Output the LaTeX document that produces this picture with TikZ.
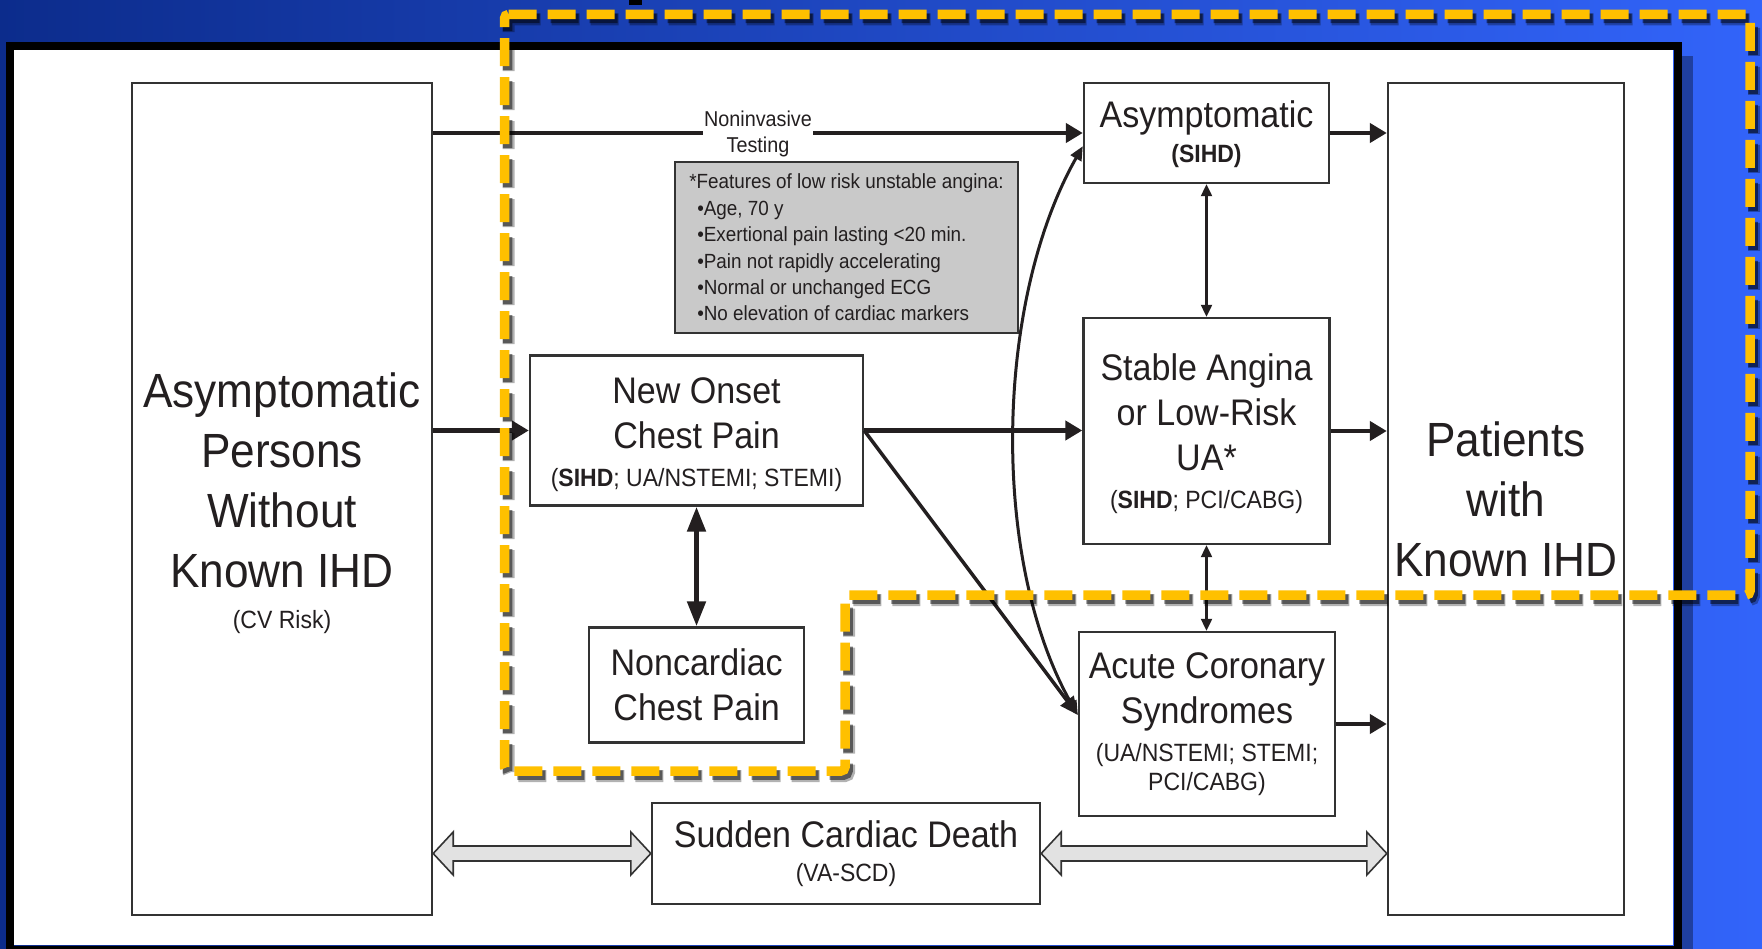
\documentclass[tikz,border=0pt]{standalone}
\usepackage{fontspec}
\setmainfont[FakeStretch=0.92]{Liberation Sans}
\usetikzlibrary{arrows.meta,calc}

\definecolor{ink}{HTML}{231F20}
\definecolor{boxline}{HTML}{333333}
\definecolor{navy}{RGB}{12,44,140}
\definecolor{royal}{RGB}{50,100,250}
\definecolor{gold}{HTML}{FFC000}
\definecolor{panelgray}{HTML}{C9C9C9}
\definecolor{hollowgray}{HTML}{E2E2E2}

\newcommand\fbig{\fontsize{48}{60}\selectfont}
\newcommand\fmid{\fontsize{37}{45}\selectfont}
\newcommand\fsml{\fontsize{25}{29}\selectfont}

\begin{document}
\begin{tikzpicture}[x=1pt,y=-1pt,
  box/.style={draw=boxline,line width=2.4pt,fill=white,inner sep=0pt,align=center,text=ink},
  arr/.style={draw=ink,line width=4.5pt,-{Triangle[length=17pt,width=19pt]}},
  thinarr/.style={draw=ink,line width=2.2pt,>={Triangle[length=12pt,width=11pt]},<->},
  boldarr/.style={draw=ink,line width=5pt,>={Triangle[length=25pt,width=18pt]},<->},
  hollow/.style={draw=boxline,line width=1.6pt,fill=hollowgray,line join=miter},
  goldline/.style={line width=9.5pt,dash pattern=on 28pt off 11pt,rounded corners=4pt}
]
\useasboundingbox (0,0) rectangle (1762,949);

% slide background and framed white panel
\shade[left color=navy,right color=royal] (0,0) rectangle (1762,949);
\fill[black] (629,0) rectangle (642,5);
\fill[black,opacity=.35] (1682,56) rectangle (1693,949);
\fill[white] (13,50) rectangle (1673,945);
\draw[black,line width=8pt] (9.5,46.5) rectangle (1677.5,950);

% boxes
\node[box,minimum width=300pt,minimum height=832pt,font=\fbig] (L) at (282,499)
  {\rule{0pt}{43pt}Asymptomatic\\Persons\\Without\\Known IHD\\[-19pt]{\fsml (CV Risk)}};
\node[box,minimum width=236pt,minimum height=832pt,font=\fbig] (Pat) at (1506,499)
  {Patients\\with\\Known IHD};
\node[box,minimum width=245pt,minimum height=100pt,font=\fmid] (Asy) at (1206.5,133)
  {\rule{0pt}{29pt}Asymptomatic\\[-10pt]{\fsml\bfseries (SIHD)}};
\node[box,minimum width=246pt,minimum height=226pt,font=\fmid] (Stab) at (1206.5,431)
  {\rule{0pt}{33pt}Stable Angina\\or Low-Risk\\UA*\\[-7pt]{\fsml (\textbf{SIHD}; PCI/CABG)}};
\node[box,minimum width=256pt,minimum height=184pt,font=\fmid] (ACS) at (1207,724)
  {Acute Coronary\\Syndromes\\[-7pt]{\fsml (UA/NSTEMI; STEMI;}\\[-16pt]{\fsml PCI/CABG)}};
\node[box,minimum width=333pt,minimum height=150pt,font=\fmid] (NO) at (696.5,430.5)
  {\rule{0pt}{34pt}New Onset\\Chest Pain\\[-7pt]{\fsml (\textbf{SIHD}; UA/NSTEMI; STEMI)}};
\node[box,minimum width=215pt,minimum height=115pt,font=\fmid] (NC) at (696.7,685)
  {Noncardiac\\Chest Pain};
\node[box,minimum width=388pt,minimum height=101pt,font=\fmid] (SCD) at (846,853.5)
  {Sudden Cardiac Death\\[-11pt]{\fsml (VA-SCD)}};
\node[box,fill=panelgray,minimum width=343pt,minimum height=171pt,align=left,
      font=\fontsize{20.5}{26.4}\selectfont] (feat) at (846.5,247.5)
  {*Features of low risk unstable angina:\\
   \hspace*{8pt}•Age, 70 y\\
   \hspace*{8pt}•Exertional pain lasting <20 min.\\
   \hspace*{8pt}•Pain not rapidly accelerating\\
   \hspace*{8pt}•Normal or unchanged ECG\\
   \hspace*{8pt}•No elevation of cardiac markers};
\node[inner xsep=1pt,inner ysep=0pt,align=center,text=ink,
      font=\fontsize{21.5}{26}\selectfont] (nit) at (758,134) {Noninvasive\\Testing};

% connectors
\draw[draw=ink,line width=4.5pt] (L.east |- Asy.west) -- (nit.west |- Asy.west);
\draw[arr] (nit.east |- Asy.west) -- (Asy.west);
\draw[arr] (L.east |- NO.west) -- (NO.west);
\draw[arr] (NO.east) -- (NO.east -| Stab.west);
\draw[arr] (Asy.east) -- (Asy.east -| Pat.west);
\draw[arr] (Stab.east) -- (Stab.east -| Pat.west);
\draw[arr] (ACS.east) -- (ACS.east -| Pat.west);
\draw[thinarr] (Asy.south) -- (Asy.south |- Stab.north);
\draw[thinarr] (Stab.south) -- (Stab.south |- ACS.north);
\draw[boldarr] (NO.south) -- (NO.south |- NC.north);

\coordinate (acsin) at ($(ACS.west)+(0,-9)$);
\coordinate (asyin) at ($(Asy.south west)+(0,-38)$);
\draw[draw=ink,line width=3.5pt,-{Triangle[length=18pt,width=16pt]}] (NO.east) -- (acsin);
\draw[draw=ink,line width=3pt,>={Triangle[length=14pt,width=12pt]},<->]
  (acsin) .. controls ($(acsin)+(-88,-155)$) and ($(asyin)+(-88,155)$) .. (asyin);

% hollow double arrows to sudden cardiac death
\coordinate (lsc) at (L.east |- SCD.west);
\draw[hollow] (lsc) -- ++(20,-21.5) -- ++(0,14) -- ($(SCD.west)+(-20,-7.5)$) -- ++(0,-14)
  -- (SCD.west) -- ++(-20,21.5) -- ++(0,-14) -- ($(lsc)+(20,7.5)$) -- ++(0,14) -- cycle;
\coordinate (psc) at (Pat.west |- SCD.east);
\draw[hollow] (SCD.east) -- ++(20,-21.5) -- ++(0,14) -- ($(psc)+(-20,-7.5)$) -- ++(0,-14)
  -- (psc) -- ++(-20,21.5) -- ++(0,-14) -- ($(SCD.east)+(20,7.5)$) -- ++(0,14) -- cycle;

% highlighted region
\def\goldpath{(504.5,14.5) -- (1750,14.5) -- (1750,595) -- (845,595) -- (845,771) -- (504.5,771) -- cycle}
\draw[goldline,black,opacity=.3,line width=12pt,shift={(4,5)}] \goldpath;
\draw[goldline,black,opacity=.5,shift={(3,4)}] \goldpath;
\draw[goldline,gold] \goldpath;
\end{tikzpicture}
\end{document}
